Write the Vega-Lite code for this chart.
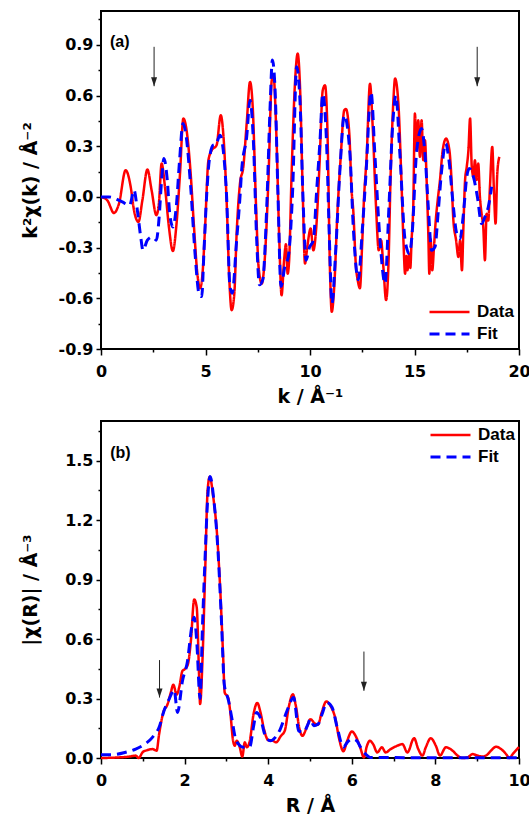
{
  "$schema": "https://vega.github.io/schema/vega-lite/v6.json",
  "background": "white",
  "padding": {"left": 20, "top": 10, "right": 5, "bottom": 0},
  "spacing": 13,
  "config": {
    "view": {"stroke": "black", "strokeWidth": 2},
    "axis": {"domain": false, "grid": false, "labelFont": "DejaVu Sans", "labelFontWeight": "bold", "labelFontSize": 16, "labelColor": "black", "tickColor": "black", "tickWidth": 1.5, "titleFont": "DejaVu Sans", "titleFontWeight": "bold", "titleFontSize": 19, "titleColor": "black", "labelFlush": false, "labelOverlap": false},
    "legend": {"labelFont": "Liberation Sans", "labelFontWeight": "bold", "labelFontSize": 17, "labelColor": "black", "symbolType": "stroke", "symbolSize": 1600, "symbolStrokeWidth": 2.8, "clipHeight": 20, "rowPadding": 2, "padding": 0, "labelOffset": 6}
  },
  "datasets": {
    "chiK": [
      {"series":"Data","k":0,"v":0},{"series":"Data","k":0.3,"v":-0.02},{"series":"Data","k":0.62,"v":-0.095},{"series":"Data","k":0.86,"v":-0.04},{"series":"Data","k":1.18,"v":0.158},{"series":"Data","k":1.42,"v":0.06},{"series":"Data","k":1.58,"v":-0.08},{"series":"Data","k":1.79,"v":-0.148},{"series":"Data","k":1.98,"v":-0.02},{"series":"Data","k":2.22,"v":0.162},{"series":"Data","k":2.42,"v":0.04},{"series":"Data","k":2.65,"v":-0.108},{"series":"Data","k":2.77,"v":-0.04},{"series":"Data","k":2.9,"v":0.197},{"series":"Data","k":3.06,"v":0.06},{"series":"Data","k":3.25,"v":-0.178},{"series":"Data","k":3.44,"v":-0.32},{"series":"Data","k":3.6,"v":-0.178},{"series":"Data","k":3.78,"v":0.138},{"series":"Data","k":3.94,"v":0.464},{"series":"Data","k":4.1,"v":0.39},{"series":"Data","k":4.29,"v":0.138},{"series":"Data","k":4.45,"v":-0.178},{"series":"Data","k":4.61,"v":-0.454},{"series":"Data","k":4.74,"v":-0.54},{"series":"Data","k":4.86,"v":-0.45},{"series":"Data","k":4.98,"v":-0.18},{"series":"Data","k":5.14,"v":0.217},{"series":"Data","k":5.3,"v":0.276},{"series":"Data","k":5.53,"v":0.306},{"series":"Data","k":5.73,"v":0.483},{"series":"Data","k":5.85,"v":0.375},{"series":"Data","k":6.01,"v":-0.02},{"series":"Data","k":6.14,"v":-0.49},{"series":"Data","k":6.25,"v":-0.67},{"series":"Data","k":6.38,"v":-0.57},{"series":"Data","k":6.49,"v":-0.217},{"series":"Data","k":6.65,"v":0.08},{"series":"Data","k":6.81,"v":0.178},{"series":"Data","k":6.97,"v":0.434},{"series":"Data","k":7.13,"v":0.68},{"series":"Data","k":7.26,"v":0.53},{"series":"Data","k":7.42,"v":-0.06},{"series":"Data","k":7.54,"v":-0.414},{"series":"Data","k":7.69,"v":-0.513},{"series":"Data","k":7.82,"v":-0.394},{"series":"Data","k":8.01,"v":0.1},{"series":"Data","k":8.17,"v":0.69},{"series":"Data","k":8.25,"v":0.72},{"series":"Data","k":8.4,"v":0.335},{"series":"Data","k":8.53,"v":-0.256},{"series":"Data","k":8.64,"v":-0.582},{"series":"Data","k":8.76,"v":-0.375},{"series":"Data","k":8.85,"v":-0.28},{"series":"Data","k":8.93,"v":-0.454},{"series":"Data","k":9.0,"v":-0.38},{"series":"Data","k":9.12,"v":0.138},{"series":"Data","k":9.28,"v":0.67},{"series":"Data","k":9.41,"v":0.848},{"series":"Data","k":9.52,"v":0.66},{"series":"Data","k":9.65,"v":0.04},{"series":"Data","k":9.76,"v":-0.394},{"series":"Data","k":9.87,"v":-0.296},{"series":"Data","k":10.03,"v":-0.187},{"series":"Data","k":10.16,"v":-0.316},{"series":"Data","k":10.29,"v":-0.197},{"series":"Data","k":10.45,"v":0.178},{"series":"Data","k":10.61,"v":0.631},{"series":"Data","k":10.72,"v":0.66},{"series":"Data","k":10.83,"v":0.414},{"series":"Data","k":10.96,"v":-0.454},{"series":"Data","k":11.04,"v":-0.68},{"series":"Data","k":11.16,"v":-0.53},{"series":"Data","k":11.31,"v":-0.1},{"series":"Data","k":11.47,"v":0.237},{"series":"Data","k":11.64,"v":0.513},{"series":"Data","k":11.72,"v":0.52},{"series":"Data","k":11.88,"v":0.375},{"series":"Data","k":11.99,"v":0.04},{"series":"Data","k":12.07,"v":-0.08},{"series":"Data","k":12.2,"v":-0.414},{"series":"Data","k":12.28,"v":-0.49},{"series":"Data","k":12.39,"v":-0.54},{"series":"Data","k":12.49,"v":-0.296},{"series":"Data","k":12.58,"v":-0.02},{"series":"Data","k":12.71,"v":0.237},{"series":"Data","k":12.87,"v":0.67},{"series":"Data","k":13.0,"v":0.414},{"series":"Data","k":13.16,"v":-0.06},{"series":"Data","k":13.29,"v":-0.316},{"series":"Data","k":13.4,"v":-0.256},{"series":"Data","k":13.51,"v":-0.414},{"series":"Data","k":13.64,"v":-0.61},{"series":"Data","k":13.75,"v":-0.414},{"series":"Data","k":13.86,"v":0.138},{"series":"Data","k":13.99,"v":0.57},{"series":"Data","k":14.07,"v":0.7},{"series":"Data","k":14.23,"v":0.55},{"series":"Data","k":14.36,"v":0.15},{"series":"Data","k":14.47,"v":-0.256},{"series":"Data","k":14.55,"v":-0.454},{"series":"Data","k":14.61,"v":-0.35},{"series":"Data","k":14.66,"v":-0.434},{"series":"Data","k":14.75,"v":-0.335},{"series":"Data","k":14.8,"v":-0.42},{"series":"Data","k":14.86,"v":-0.256},{"series":"Data","k":14.94,"v":-0.06},{"series":"Data","k":15.02,"v":0.493},{"series":"Data","k":15.1,"v":0.276},{"series":"Data","k":15.18,"v":0.454},{"series":"Data","k":15.26,"v":0.237},{"series":"Data","k":15.34,"v":0.454},{"series":"Data","k":15.42,"v":0.217},{"series":"Data","k":15.5,"v":0.335},{"series":"Data","k":15.58,"v":0.1},{"series":"Data","k":15.66,"v":-0.217},{"series":"Data","k":15.71,"v":-0.454},{"series":"Data","k":15.77,"v":-0.25},{"series":"Data","k":15.85,"v":-0.434},{"series":"Data","k":15.93,"v":-0.3},{"series":"Data","k":16.01,"v":-0.15},{"series":"Data","k":16.11,"v":-0.02},{"series":"Data","k":16.22,"v":0.1},{"series":"Data","k":16.35,"v":0.276},{"series":"Data","k":16.51,"v":0.345},{"series":"Data","k":16.67,"v":0.276},{"series":"Data","k":16.78,"v":0.08},{"series":"Data","k":16.86,"v":-0.138},{"series":"Data","k":16.99,"v":-0.256},{"series":"Data","k":17.1,"v":-0.355},{"series":"Data","k":17.18,"v":-0.26},{"series":"Data","k":17.27,"v":-0.434},{"series":"Data","k":17.34,"v":-0.178},{"series":"Data","k":17.42,"v":0.1},{"series":"Data","k":17.5,"v":0.178},{"series":"Data","k":17.58,"v":0.276},{"series":"Data","k":17.66,"v":0.464},{"series":"Data","k":17.74,"v":0.178},{"series":"Data","k":17.82,"v":0.12},{"series":"Data","k":17.89,"v":0.217},{"series":"Data","k":17.97,"v":0.1},{"series":"Data","k":18.05,"v":0.197},{"series":"Data","k":18.13,"v":0.0},{"series":"Data","k":18.21,"v":-0.1},{"series":"Data","k":18.29,"v":-0.178},{"series":"Data","k":18.37,"v":-0.375},{"series":"Data","k":18.45,"v":-0.1},{"series":"Data","k":18.53,"v":-0.14},{"series":"Data","k":18.61,"v":0.06},{"series":"Data","k":18.72,"v":0.296},{"series":"Data","k":18.8,"v":0.04},{"series":"Data","k":18.88,"v":-0.158},{"series":"Data","k":18.96,"v":0.138},{"series":"Data","k":19.06,"v":0.237},
      {"series":"Fit","k":0,"v":0},{"series":"Fit","k":0.38,"v":0},{"series":"Fit","k":1.02,"v":-0.03},{"series":"Fit","k":1.37,"v":-0.05},{"series":"Fit","k":1.58,"v":0.04},{"series":"Fit","k":1.74,"v":-0.08},{"series":"Fit","k":1.9,"v":-0.237},{"series":"Fit","k":2.01,"v":-0.316},{"series":"Fit","k":2.22,"v":-0.256},{"series":"Fit","k":2.46,"v":-0.237},{"series":"Fit","k":2.65,"v":-0.256},{"series":"Fit","k":2.77,"v":-0.138},{"series":"Fit","k":2.9,"v":0.1},{"series":"Fit","k":3.01,"v":0.227},{"series":"Fit","k":3.17,"v":0.1},{"series":"Fit","k":3.29,"v":-0.1},{"series":"Fit","k":3.44,"v":-0.178},{"series":"Fit","k":3.6,"v":-0.06},{"series":"Fit","k":3.76,"v":0.217},{"series":"Fit","k":3.92,"v":0.434},{"series":"Fit","k":4.08,"v":0.355},{"series":"Fit","k":4.29,"v":0.06},{"series":"Fit","k":4.5,"v":-0.335},{"series":"Fit","k":4.69,"v":-0.572},{"series":"Fit","k":4.82,"v":-0.59},{"series":"Fit","k":4.92,"v":-0.34},{"series":"Fit","k":5.06,"v":0.02},{"series":"Fit","k":5.18,"v":0.217},{"series":"Fit","k":5.37,"v":0.306},{"series":"Fit","k":5.5,"v":0.31},{"series":"Fit","k":5.69,"v":0.365},{"series":"Fit","k":5.85,"v":0.276},{"series":"Fit","k":6.01,"v":0.0},{"series":"Fit","k":6.17,"v":-0.53},{"series":"Fit","k":6.28,"v":-0.57},{"series":"Fit","k":6.49,"v":-0.256},{"series":"Fit","k":6.65,"v":0.0},{"series":"Fit","k":6.73,"v":0.158},{"series":"Fit","k":6.97,"v":0.355},{"series":"Fit","k":7.13,"v":0.572},{"series":"Fit","k":7.29,"v":0.335},{"series":"Fit","k":7.45,"v":-0.256},{"series":"Fit","k":7.58,"v":-0.52},{"series":"Fit","k":7.74,"v":-0.49},{"series":"Fit","k":7.93,"v":-0.06},{"series":"Fit","k":8.09,"v":0.53},{"series":"Fit","k":8.2,"v":0.81},{"series":"Fit","k":8.33,"v":0.63},{"series":"Fit","k":8.47,"v":0.0},{"series":"Fit","k":8.61,"v":-0.53},{"series":"Fit","k":8.8,"v":-0.41},{"series":"Fit","k":8.96,"v":-0.355},{"series":"Fit","k":9.17,"v":0.04},{"series":"Fit","k":9.36,"v":0.77},{"series":"Fit","k":9.52,"v":0.57},{"series":"Fit","k":9.68,"v":-0.06},{"series":"Fit","k":9.81,"v":-0.375},{"series":"Fit","k":9.97,"v":-0.3},{"series":"Fit","k":10.16,"v":-0.256},{"series":"Fit","k":10.32,"v":0.04},{"series":"Fit","k":10.48,"v":0.335},{"series":"Fit","k":10.61,"v":0.61},{"series":"Fit","k":10.8,"v":0.296},{"series":"Fit","k":10.93,"v":-0.256},{"series":"Fit","k":11.05,"v":-0.63},{"series":"Fit","k":11.24,"v":-0.296},{"series":"Fit","k":11.44,"v":0.178},{"series":"Fit","k":11.64,"v":0.483},{"series":"Fit","k":11.91,"v":0.256},{"series":"Fit","k":12.07,"v":-0.178},{"series":"Fit","k":12.31,"v":-0.49},{"series":"Fit","k":12.5,"v":-0.2},{"series":"Fit","k":12.68,"v":0.138},{"series":"Fit","k":12.92,"v":0.62},{"series":"Fit","k":13.11,"v":0.237},{"series":"Fit","k":13.35,"v":-0.256},{"series":"Fit","k":13.59,"v":-0.513},{"series":"Fit","k":13.78,"v":-0.05},{"series":"Fit","k":13.96,"v":0.434},{"series":"Fit","k":14.11,"v":0.6},{"series":"Fit","k":14.3,"v":0.256},{"series":"Fit","k":14.55,"v":-0.256},{"series":"Fit","k":14.75,"v":-0.335},{"series":"Fit","k":14.91,"v":-0.178},{"series":"Fit","k":15.07,"v":0.217},{"series":"Fit","k":15.23,"v":0.375},{"series":"Fit","k":15.34,"v":0.404},{"series":"Fit","k":15.5,"v":0.256},{"series":"Fit","k":15.66,"v":-0.06},{"series":"Fit","k":15.82,"v":-0.316},{"series":"Fit","k":15.98,"v":-0.296},{"series":"Fit","k":16.14,"v":-0.08},{"series":"Fit","k":16.3,"v":0.158},{"series":"Fit","k":16.49,"v":0.316},{"series":"Fit","k":16.65,"v":0.217},{"series":"Fit","k":16.83,"v":-0.02},{"series":"Fit","k":17.02,"v":-0.217},{"series":"Fit","k":17.18,"v":-0.247},{"series":"Fit","k":17.34,"v":-0.1},{"series":"Fit","k":17.5,"v":0.118},{"series":"Fit","k":17.62,"v":0.168},{"series":"Fit","k":17.82,"v":0.118},{"series":"Fit","k":18.01,"v":0.0},{"series":"Fit","k":18.21,"v":-0.158},{"series":"Fit","k":18.37,"v":-0.118},{"series":"Fit","k":18.53,"v":-0.06},{"series":"Fit","k":18.69,"v":0.06}
    ],
    "chiR": [
      {"series":"Data","r":0,"v":0},{"series":"Data","r":0.43,"v":0.003},{"series":"Data","r":0.67,"v":0.007},{"series":"Data","r":0.83,"v":0.012},{"series":"Data","r":0.9,"v":0.0},{"series":"Data","r":1.0,"v":0.03},{"series":"Data","r":1.11,"v":0.04},{"series":"Data","r":1.23,"v":0.045},{"series":"Data","r":1.33,"v":0.037},{"series":"Data","r":1.39,"v":0.12},{"series":"Data","r":1.49,"v":0.23},{"series":"Data","r":1.59,"v":0.27},{"series":"Data","r":1.67,"v":0.33},{"series":"Data","r":1.73,"v":0.37},{"series":"Data","r":1.81,"v":0.32},{"series":"Data","r":1.87,"v":0.356},{"series":"Data","r":1.95,"v":0.44},{"series":"Data","r":2.01,"v":0.449},{"series":"Data","r":2.08,"v":0.474},{"series":"Data","r":2.15,"v":0.59},{"series":"Data","r":2.23,"v":0.8},{"series":"Data","r":2.29,"v":0.76},{"series":"Data","r":2.35,"v":0.39},{"series":"Data","r":2.37,"v":0.272},{"series":"Data","r":2.43,"v":0.507},{"series":"Data","r":2.49,"v":0.927},{"series":"Data","r":2.55,"v":1.347},{"series":"Data","r":2.6,"v":1.418},{"series":"Data","r":2.69,"v":1.31},{"series":"Data","r":2.77,"v":1.146},{"series":"Data","r":2.85,"v":0.86},{"series":"Data","r":2.92,"v":0.524},{"series":"Data","r":2.96,"v":0.33},{"series":"Data","r":3.04,"v":0.306},{"series":"Data","r":3.09,"v":0.238},{"series":"Data","r":3.16,"v":0.087},{"series":"Data","r":3.2,"v":0.062},{"series":"Data","r":3.25,"v":0.087},{"series":"Data","r":3.32,"v":0.054},{"series":"Data","r":3.38,"v":0.007},{"series":"Data","r":3.44,"v":0.079},{"series":"Data","r":3.49,"v":0.054},{"series":"Data","r":3.56,"v":0.087},{"series":"Data","r":3.65,"v":0.222},{"series":"Data","r":3.74,"v":0.278},{"series":"Data","r":3.81,"v":0.235},{"series":"Data","r":3.9,"v":0.145},{"series":"Data","r":4.0,"v":0.09},{"series":"Data","r":4.1,"v":0.088},{"series":"Data","r":4.19,"v":0.079},{"series":"Data","r":4.3,"v":0.11},{"series":"Data","r":4.4,"v":0.14},{"series":"Data","r":4.49,"v":0.255},{"series":"Data","r":4.59,"v":0.321},{"series":"Data","r":4.66,"v":0.265},{"series":"Data","r":4.75,"v":0.145},{"series":"Data","r":4.82,"v":0.112},{"series":"Data","r":4.92,"v":0.154},{"series":"Data","r":5.01,"v":0.196},{"series":"Data","r":5.11,"v":0.175},{"series":"Data","r":5.19,"v":0.168},{"series":"Data","r":5.28,"v":0.23},{"series":"Data","r":5.39,"v":0.285},{"series":"Data","r":5.49,"v":0.263},{"series":"Data","r":5.61,"v":0.196},{"series":"Data","r":5.69,"v":0.104},{"series":"Data","r":5.8,"v":0.034},{"series":"Data","r":5.89,"v":0.087},{"series":"Data","r":6.0,"v":0.134},{"series":"Data","r":6.09,"v":0.112},{"series":"Data","r":6.2,"v":0.054},{"series":"Data","r":6.29,"v":0.003},{"series":"Data","r":6.36,"v":0.06},{"series":"Data","r":6.43,"v":0.087},{"series":"Data","r":6.51,"v":0.07},{"series":"Data","r":6.61,"v":0.028},{"series":"Data","r":6.72,"v":0.054},{"series":"Data","r":6.81,"v":0.028},{"series":"Data","r":6.93,"v":0.045},{"series":"Data","r":7.09,"v":0.062},{"series":"Data","r":7.21,"v":0.07},{"series":"Data","r":7.33,"v":0.028},{"series":"Data","r":7.49,"v":0.1},{"series":"Data","r":7.59,"v":0.045},{"series":"Data","r":7.69,"v":0.012},{"series":"Data","r":7.77,"v":0.054},{"series":"Data","r":7.89,"v":0.1},{"series":"Data","r":8.01,"v":0.062},{"series":"Data","r":8.11,"v":0.012},{"series":"Data","r":8.25,"v":0.054},{"series":"Data","r":8.41,"v":0.037},{"series":"Data","r":8.53,"v":0.012},{"series":"Data","r":8.65,"v":0.0},{"series":"Data","r":8.77,"v":0.003},{"series":"Data","r":8.89,"v":0.02},{"series":"Data","r":9.01,"v":0.012},{"series":"Data","r":9.13,"v":0.007},{"series":"Data","r":9.23,"v":0.015},{"series":"Data","r":9.33,"v":0.037},{"series":"Data","r":9.45,"v":0.057},{"series":"Data","r":9.57,"v":0.045},{"series":"Data","r":9.69,"v":0.02},{"series":"Data","r":9.77,"v":0.0},{"series":"Data","r":9.85,"v":0.02},{"series":"Data","r":10,"v":0.055},
      {"series":"Fit","r":0,"v":0.017},{"series":"Fit","r":0.27,"v":0.017},{"series":"Fit","r":0.59,"v":0.029},{"series":"Fit","r":0.83,"v":0.045},{"series":"Fit","r":1.03,"v":0.067},{"series":"Fit","r":1.23,"v":0.104},{"series":"Fit","r":1.39,"v":0.155},{"series":"Fit","r":1.51,"v":0.24},{"series":"Fit","r":1.63,"v":0.297},{"series":"Fit","r":1.75,"v":0.343},{"series":"Fit","r":1.83,"v":0.23},{"series":"Fit","r":1.95,"v":0.39},{"series":"Fit","r":2.07,"v":0.49},{"series":"Fit","r":2.17,"v":0.66},{"series":"Fit","r":2.23,"v":0.71},{"series":"Fit","r":2.29,"v":0.59},{"series":"Fit","r":2.37,"v":0.3},{"series":"Fit","r":2.43,"v":0.68},{"series":"Fit","r":2.49,"v":1.01},{"series":"Fit","r":2.55,"v":1.3},{"series":"Fit","r":2.61,"v":1.42},{"series":"Fit","r":2.7,"v":1.3},{"series":"Fit","r":2.8,"v":1.04},{"series":"Fit","r":2.88,"v":0.7},{"series":"Fit","r":2.95,"v":0.37},{"series":"Fit","r":3.05,"v":0.29},{"series":"Fit","r":3.13,"v":0.2},{"series":"Fit","r":3.21,"v":0.104},{"series":"Fit","r":3.29,"v":0.07},{"series":"Fit","r":3.41,"v":0.054},{"series":"Fit","r":3.56,"v":0.057},{"series":"Fit","r":3.65,"v":0.16},{"series":"Fit","r":3.72,"v":0.23},{"series":"Fit","r":3.81,"v":0.205},{"series":"Fit","r":3.93,"v":0.112},{"series":"Fit","r":4.05,"v":0.087},{"series":"Fit","r":4.17,"v":0.104},{"series":"Fit","r":4.29,"v":0.146},{"series":"Fit","r":4.45,"v":0.238},{"series":"Fit","r":4.61,"v":0.305},{"series":"Fit","r":4.73,"v":0.137},{"series":"Fit","r":4.85,"v":0.13},{"series":"Fit","r":4.95,"v":0.17},{"series":"Fit","r":5.01,"v":0.196},{"series":"Fit","r":5.09,"v":0.163},{"series":"Fit","r":5.19,"v":0.17},{"series":"Fit","r":5.29,"v":0.222},{"series":"Fit","r":5.4,"v":0.28},{"series":"Fit","r":5.53,"v":0.255},{"series":"Fit","r":5.65,"v":0.154},{"series":"Fit","r":5.8,"v":0.054},{"series":"Fit","r":5.89,"v":0.079},{"series":"Fit","r":6.01,"v":0.096},{"series":"Fit","r":6.12,"v":0.087},{"series":"Fit","r":6.21,"v":0.054},{"series":"Fit","r":6.33,"v":0.02},{"series":"Fit","r":6.44,"v":0.003},{"series":"Fit","r":7,"v":0.002},{"series":"Fit","r":8,"v":0.001},{"series":"Fit","r":9,"v":0.001},{"series":"Fit","r":10,"v":0.001}
    ],
    "arrowsK": [{"k": 2.54, "top": 0.888, "tip": 0.655}, {"k": 18.0, "top": 0.888, "tip": 0.655}],
    "arrowsR": [{"r": 1.4, "top": 0.494, "tip": 0.305}, {"r": 6.29, "top": 0.537, "tip": 0.339}]
  },
  "resolve": {"scale": {"color": "independent", "strokeDash": "independent", "strokeWidth": "independent"}},
  "vconcat": [
    {
      "width": 418, "height": 338,
      "resolve": {"axis": {"x": "independent", "y": "independent"}},
      "layer": [
        {
          "data": {"name": "chiK"},
          "mark": {"type": "line", "strokeCap": "butt", "interpolate": "monotone"},
          "encoding": {
            "x": {"field": "k", "type": "quantitative", "scale": {"domain": [0, 20], "nice": false, "zero": false}, "axis": {"orient": "bottom", "values": [0, 5, 10, 15, 20], "title": "k / Å⁻¹", "tickSize": 6, "labelPadding": 8, "titlePadding": 8}},
            "y": {"field": "v", "type": "quantitative", "scale": {"domain": [-0.9, 1.1], "nice": false, "zero": false}, "axis": {"orient": "left", "values": [-0.9, -0.6, -0.3, 0, 0.3, 0.6, 0.9], "labelExpr": "replace(format(datum.value, '.1f'), '−', '-')", "title": "k²χ(k) / Å⁻²", "tickSize": 5, "labelPadding": 3, "titlePadding": 18}},
            "color": {"field": "series", "type": "nominal", "scale": {"domain": ["Data", "Fit"], "range": ["#ff0000", "#0000ff"]}, "legend": {"orient": "bottom-right", "offset": 5, "title": null}},
            "strokeDash": {"field": "series", "type": "nominal", "scale": {"domain": ["Data", "Fit"], "range": [[1, 0], [10, 6]]}, "legend": {"orient": "bottom-right", "offset": 5, "title": null}},
            "strokeWidth": {"field": "series", "type": "nominal", "scale": {"domain": ["Data", "Fit"], "range": [2.5, 3]}, "legend": null}
          }
        },
        {
          "data": {"name": "arrowsK"},
          "mark": {"type": "rule", "color": "#222222", "strokeWidth": 1},
          "encoding": {
            "x": {"field": "k", "type": "quantitative", "axis": {"orient": "bottom", "values": [2.5, 7.5, 12.5, 17.5], "labels": false, "tickSize": 3, "title": null}},
            "y": {"field": "top", "type": "quantitative", "axis": {"orient": "left", "values": [-0.75, -0.45, -0.15, 0.15, 0.45, 0.75, 1.05], "labels": false, "tickSize": 3, "title": null}},
            "y2": {"field": "tip"}
          }
        },
        {
          "data": {"name": "arrowsK"},
          "mark": {"type": "point", "shape": "M-1,-3L1,-3L0,0Z", "filled": true, "color": "#222222", "size": 36, "opacity": 1},
          "encoding": {
            "x": {"field": "k", "type": "quantitative", "axis": null},
            "y": {"field": "tip", "type": "quantitative", "axis": null}
          }
        },
        {
          "data": {"values": [{"k": 0.43, "v": 0.917, "label": "(a)"}]},
          "mark": {"type": "text", "align": "left", "baseline": "middle", "font": "Liberation Sans", "fontWeight": "bold", "fontSize": 16, "color": "black"},
          "encoding": {
            "x": {"field": "k", "type": "quantitative", "axis": null},
            "y": {"field": "v", "type": "quantitative", "axis": null},
            "text": {"field": "label"}
          }
        }
      ]
    },
    {
      "width": 418, "height": 337,
      "resolve": {"axis": {"x": "independent", "y": "independent"}},
      "layer": [
        {
          "data": {"name": "chiR"},
          "mark": {"type": "line", "strokeCap": "butt", "interpolate": "monotone"},
          "encoding": {
            "x": {"field": "r", "type": "quantitative", "scale": {"domain": [0, 10], "nice": false, "zero": false}, "axis": {"orient": "bottom", "values": [0, 2, 4, 6, 8, 10], "title": "R / Å", "tickSize": 6, "labelPadding": 8, "titlePadding": 8}},
            "y": {"field": "v", "type": "quantitative", "scale": {"domain": [0, 1.7], "nice": false, "zero": false}, "axis": {"orient": "left", "values": [0, 0.3, 0.6, 0.9, 1.2, 1.5], "labelExpr": "replace(format(datum.value, '.1f'), '−', '-')", "title": "|χ(R)| / Å⁻³", "tickSize": 5, "labelPadding": 3, "titlePadding": 24}},
            "color": {"field": "series", "type": "nominal", "scale": {"domain": ["Data", "Fit"], "range": ["#ff0000", "#0000ff"]}, "legend": {"orient": "top-right", "offset": 4, "title": null}},
            "strokeDash": {"field": "series", "type": "nominal", "scale": {"domain": ["Data", "Fit"], "range": [[1, 0], [10, 6]]}, "legend": {"orient": "top-right", "offset": 4, "title": null}},
            "strokeWidth": {"field": "series", "type": "nominal", "scale": {"domain": ["Data", "Fit"], "range": [2.5, 3]}, "legend": null}
          }
        },
        {
          "data": {"name": "arrowsR"},
          "mark": {"type": "rule", "color": "#222222", "strokeWidth": 1},
          "encoding": {
            "x": {"field": "r", "type": "quantitative", "axis": {"orient": "bottom", "values": [1, 3, 5, 7, 9], "labels": false, "tickSize": 3, "title": null}},
            "y": {"field": "top", "type": "quantitative", "axis": {"orient": "left", "values": [0.15, 0.45, 0.75, 1.05, 1.35, 1.65], "labels": false, "tickSize": 3, "title": null}},
            "y2": {"field": "tip"}
          }
        },
        {
          "data": {"name": "arrowsR"},
          "mark": {"type": "point", "shape": "M-1,-3L1,-3L0,0Z", "filled": true, "color": "#222222", "size": 36, "opacity": 1},
          "encoding": {
            "x": {"field": "r", "type": "quantitative", "axis": null},
            "y": {"field": "tip", "type": "quantitative", "axis": null}
          }
        },
        {
          "data": {"values": [{"r": 0.22, "v": 1.54, "label": "(b)"}]},
          "mark": {"type": "text", "align": "left", "baseline": "middle", "font": "Liberation Sans", "fontWeight": "bold", "fontSize": 16, "color": "black"},
          "encoding": {
            "x": {"field": "r", "type": "quantitative", "axis": null},
            "y": {"field": "v", "type": "quantitative", "axis": null},
            "text": {"field": "label"}
          }
        }
      ]
    }
  ]
}
